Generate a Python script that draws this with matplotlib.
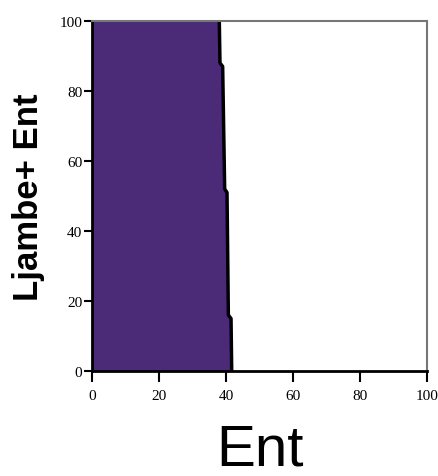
import matplotlib
matplotlib.use('Agg')
import matplotlib.pyplot as plt

# boundary of the filled region (Ent value at each Ljambe+ Ent level)
ent_edge = [38.0, 38.2, 39.0, 39.6, 40.3, 40.7, 41.5, 41.7]
ljambe_edge = [100, 88, 87, 52, 51, 16, 15, 0]
ticks = [0, 20, 40, 60, 80, 100]

fig = plt.figure(figsize=(4.38, 4.77), dpi=100)
ax = fig.add_axes([0.210, 0.220, 0.765, 0.734])

ax.fill_betweenx(ljambe_edge, 0, ent_edge, color='#4B2A78', linewidth=0)
ax.plot(ent_edge, ljambe_edge, color='black', linewidth=2.5, solid_capstyle='butt')

ax.set_xlim(0, 100)
ax.set_ylim(0, 100)
ax.set_xticks(ticks)
ax.set_yticks(ticks)
ax.tick_params(direction='out', width=1.5, labelsize=11)
ax.tick_params(axis='x', length=8, pad=5)
ax.tick_params(axis='y', length=6, pad=1)
for lab in ax.get_xticklabels() + ax.get_yticklabels():
    lab.set_family('Liberation Serif')

for s in ['left', 'bottom']:
    ax.spines[s].set_linewidth(2)
    ax.spines[s].set_color('black')
for s in ['top', 'right']:
    ax.spines[s].set_linewidth(1.5)
    ax.spines[s].set_color('#777777')

ax.set_xlabel('Ent', fontsize=42, family='Liberation Sans', labelpad=15)
ax.set_ylabel('Ljambe+ Ent', fontsize=25, fontweight='bold',
              family='Liberation Sans', labelpad=10)

fig.savefig('out.png', dpi=100)
